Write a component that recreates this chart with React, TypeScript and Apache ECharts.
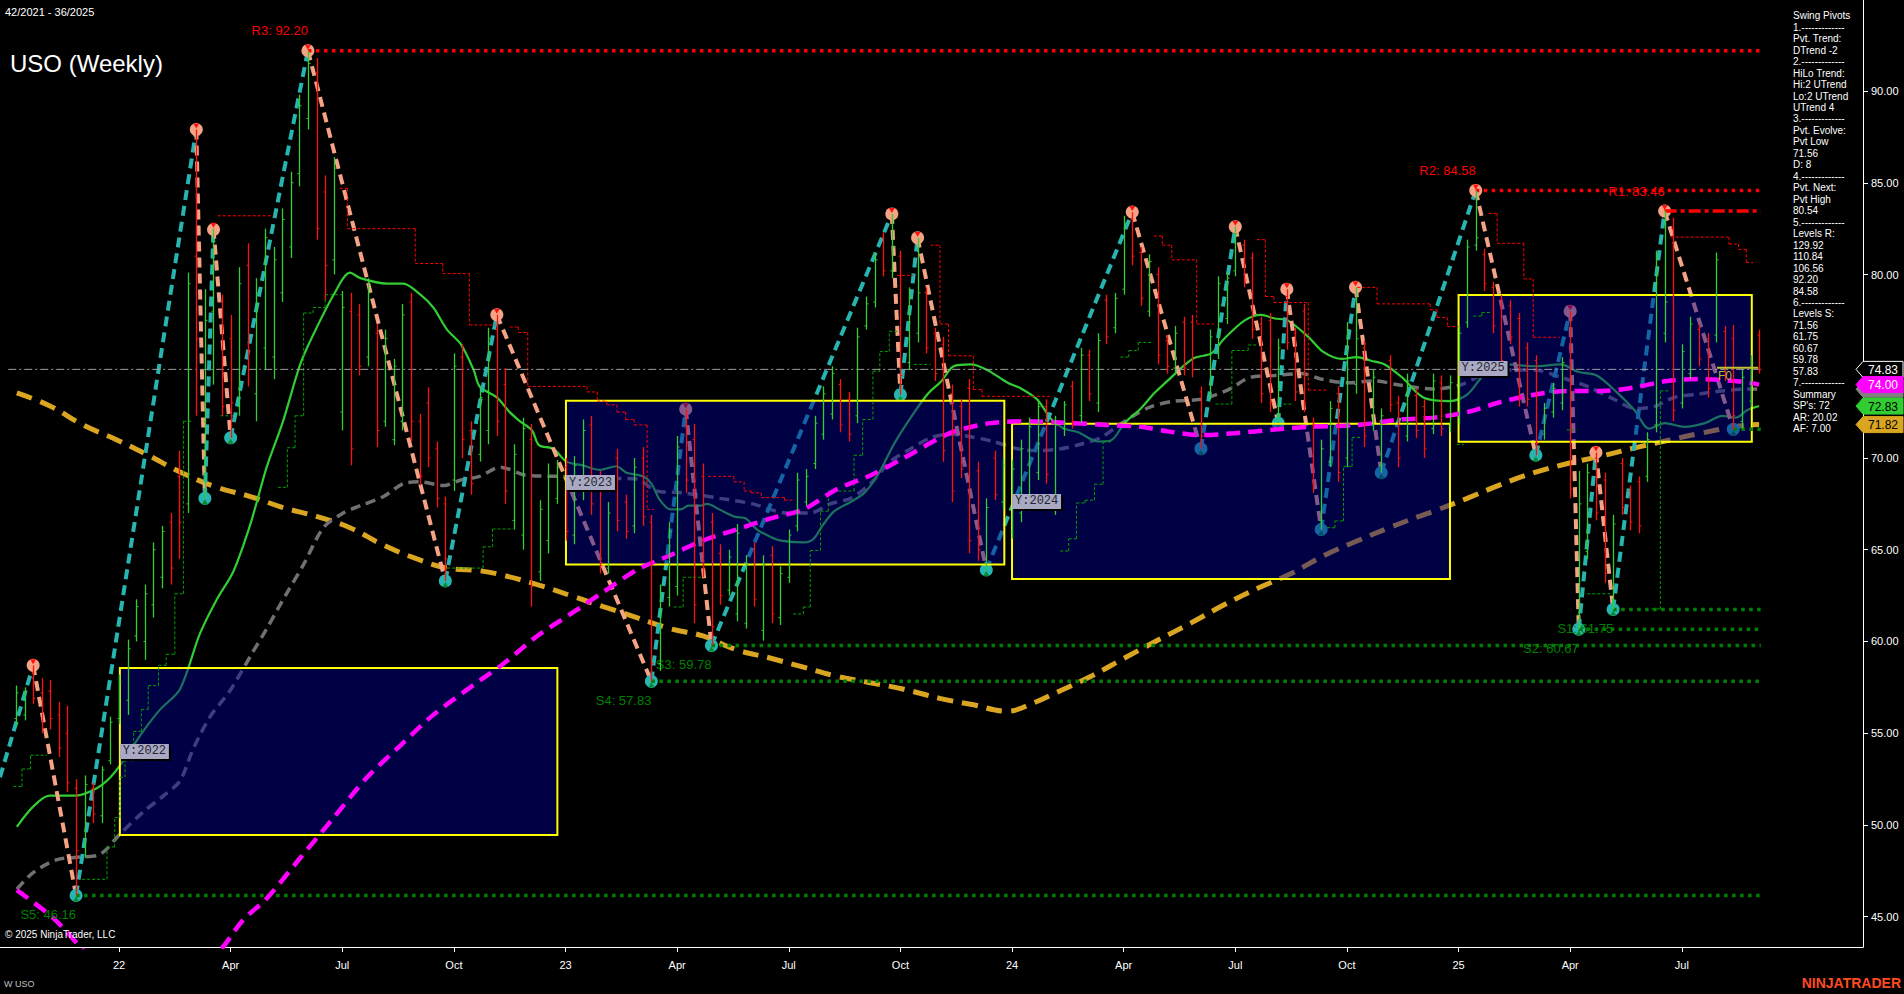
import React, { useEffect, useRef } from 'react';
import * as echarts from 'echarts';

// ---------- axis ticks (week index 0 = week of 3 Jan 2022) ----------
const xTickWeeks = [0, 13, 26, 39, 52, 65, 78, 91, 104, 117, 130, 143, 156, 169, 182];
const xTickLabels = ['22', 'Apr', 'Jul', 'Oct', '23', 'Apr', 'Jul', 'Oct', '24', 'Apr', 'Jul', 'Oct', '25', 'Apr', 'Jul'];
const yTickValues = [45, 50, 55, 60, 65, 70, 75, 80, 85, 90];
// 75.00 sits under the last-price tag, so it is not labelled
const yLabelValues = [45, 50, 55, 60, 65, 70, 80, 85, 90];

// ---------- weekly OHLC bars [open, high, low, close] ----------
const firstBarWeek = -12;
const weeklyBars = [
  [55.8, 57.6, 55.4, 57.2], [56.0, 57.5, 55.7, 57.3], [58.0, 58.7, 56.6, 56.9], [57.2, 58.0, 55.0, 55.6],
  [57.3, 57.9, 55.2, 55.8], [56.0, 56.7, 53.7, 54.2], [55.0, 56.5, 51.8, 52.3], [52.0, 52.5, 46.16, 48.6],
  [48.8, 52.7, 48.2, 52.2], [52.0, 52.3, 50.1, 50.6], [50.5, 53.2, 50.1, 53.0], [53.5, 55.9, 53.3, 55.6],
  [55.8, 58.2, 55.5, 57.8], [56.8, 60.1, 56.0, 59.6], [60.3, 62.3, 60.0, 61.9], [60.0, 63.1, 59.0, 62.6],
  [62.0, 65.4, 61.3, 65.0], [63.5, 66.3, 62.9, 66.0], [66.5, 67.0, 63.1, 64.0], [69.0, 70.4, 64.5, 66.5],
  [67.5, 80.1, 67.0, 79.5], [81.0, 87.9, 72.3, 76.5], [72.0, 79.2, 67.8, 77.5], [78.0, 82.5, 74.0, 81.8],
  [78.5, 78.9, 72.3, 72.8], [76.5, 77.8, 71.1, 73.0], [72.8, 80.4, 72.3, 79.5], [80.5, 81.7, 73.9, 75.8],
  [73.5, 79.8, 72.0, 79.0], [76.0, 82.5, 74.8, 82.0], [75.5, 81.5, 74.3, 80.8], [79.0, 83.6, 78.5, 83.0],
  [81.5, 85.6, 80.9, 85.0], [85.5, 89.8, 84.8, 89.2], [88.5, 92.2, 87.9, 91.5], [91.0, 91.8, 81.9, 82.5],
  [84.5, 85.4, 78.6, 80.5], [80.8, 86.4, 80.0, 85.8], [72.5, 79.1, 71.5, 78.2], [78.0, 79.0, 69.6, 70.5],
  [77.8, 78.4, 74.5, 75.0], [75.5, 79.8, 75.0, 79.0], [76.8, 77.3, 70.6, 71.5], [72.0, 77.0, 71.7, 76.5],
  [71.0, 75.4, 70.7, 75.0], [72.0, 78.4, 71.5, 77.8], [78.5, 79.0, 70.9, 72.0], [72.0, 72.4, 68.5, 69.0],
  [73.0, 73.85, 69.5, 70.0], [70.5, 70.9, 67.3, 67.8], [67.5, 67.9, 63.3, 64.5], [68.8, 75.7, 68.2, 75.0],
  [75.5, 76.2, 70.0, 71.0], [71.5, 72.0, 68.0, 68.6], [70.2, 73.85, 69.8, 73.3], [71.5, 77.1, 70.75, 76.5],
  [77.0, 77.8, 71.2, 72.0], [74.0, 74.9, 67.5, 68.2], [66.6, 70.75, 66.1, 70.2], [65.8, 72.2, 65.0, 71.6],
  [71.0, 71.85, 61.9, 63.0], [63.8, 67.7, 63.3, 67.2], [65.5, 69.7, 64.8, 69.0], [67.8, 69.9, 67.5, 69.5],
  [69.5, 70.0, 65.5, 66.0], [65.8, 70.1, 65.3, 69.6], [68.2, 72.1, 67.7, 71.5], [71.8, 72.3, 66.9, 67.5],
  [68.8, 69.3, 63.7, 64.3], [64.0, 67.6, 63.7, 67.0], [70.0, 70.5, 66.0, 66.6], [67.6, 68.0, 65.6, 66.0],
  [66.3, 70.0, 65.9, 69.5], [70.0, 70.6, 66.3, 66.8], [66.5, 66.9, 57.83, 58.8], [58.8, 63.1, 58.4, 62.6],
  [62.4, 66.5, 61.9, 66.0], [63.0, 71.2, 62.5, 70.6], [71.8, 72.66, 68.1, 68.8], [71.0, 71.85, 61.0, 62.0],
  [69.0, 69.7, 63.5, 64.0], [66.5, 67.0, 59.78, 60.8], [64.8, 65.3, 62.0, 62.5], [62.8, 65.0, 62.5, 64.6],
  [61.5, 66.4, 61.1, 65.9], [61.0, 64.7, 60.7, 64.2], [65.0, 65.4, 61.9, 62.3], [60.6, 64.7, 60.05, 64.2],
  [64.7, 65.2, 61.0, 61.5], [61.3, 64.1, 60.9, 63.7], [63.5, 66.1, 63.2, 65.8], [66.3, 69.2, 66.0, 68.8],
  [67.6, 69.4, 67.4, 69.0], [69.7, 72.3, 69.4, 71.9], [71.3, 73.9, 71.0, 73.5], [72.4, 75.0, 72.1, 74.6],
  [74.0, 74.3, 71.4, 71.8], [73.2, 73.6, 70.9, 71.3], [72.3, 77.1, 71.9, 76.6], [77.2, 78.8, 77.0, 78.4],
  [78.5, 81.2, 78.2, 80.8], [82.0, 82.3, 79.9, 80.2], [80.2, 83.3, 79.8, 81.5], [81.0, 81.3, 73.45, 74.5],
  [75.2, 79.3, 74.8, 78.8], [76.8, 82.0, 76.3, 79.0], [79.0, 79.3, 75.7, 76.0], [76.8, 77.1, 74.2, 74.6],
  [76.2, 76.6, 69.8, 70.4], [73.5, 74.0, 67.6, 68.2], [72.8, 73.2, 68.9, 69.4], [73.8, 74.3, 64.8, 65.5],
  [69.3, 69.8, 64.4, 65.0], [64.3, 67.8, 63.9, 67.3], [70.0, 70.4, 67.7, 68.0], [67.6, 70.0, 67.2, 69.6],
  [66.0, 69.9, 65.6, 69.4], [67.0, 71.0, 66.5, 70.5], [67.6, 72.2, 67.1, 71.7], [69.2, 73.2, 68.8, 72.8],
  [72.8, 73.2, 68.6, 69.1], [67.4, 72.3, 66.9, 71.8], [71.6, 73.1, 71.2, 72.9], [73.9, 74.2, 71.6, 72.0],
  [72.3, 76.0, 71.9, 75.6], [75.6, 75.9, 73.1, 73.5], [73.0, 76.8, 72.5, 76.4], [78.6, 78.9, 76.2, 76.6],
  [77.1, 79.0, 76.8, 78.7], [79.2, 83.2, 78.9, 82.8], [83.0, 83.4, 80.5, 81.0], [81.2, 81.5, 78.3, 78.7],
  [78.0, 81.1, 77.7, 80.7], [80.0, 80.4, 75.1, 75.6], [76.4, 76.7, 74.6, 75.0], [74.9, 77.2, 74.6, 76.8],
  [77.4, 77.7, 74.5, 74.9], [77.4, 77.8, 74.4, 74.8], [73.6, 73.9, 70.5, 71.2], [73.5, 77.0, 73.2, 76.6],
  [75.8, 79.9, 75.4, 79.5], [77.6, 80.1, 77.3, 79.8], [80.2, 82.6, 79.9, 82.2], [81.6, 81.9, 79.3, 79.7],
  [80.9, 81.2, 76.5, 77.0], [77.3, 77.7, 73.0, 73.5], [77.5, 77.9, 72.5, 73.0], [72.3, 76.5, 71.9, 76.0],
  [78.8, 79.2, 75.9, 76.3], [76.8, 77.1, 73.1, 73.6], [78.0, 78.4, 72.5, 73.0], [71.8, 72.2, 68.1, 68.6],
  [66.6, 71.0, 66.1, 70.5], [69.8, 73.1, 69.5, 72.7], [73.5, 73.9, 68.7, 69.2], [70.0, 77.4, 69.5, 77.0],
  [74.0, 79.3, 73.5, 76.5], [76.0, 76.4, 70.6, 71.2], [71.8, 74.8, 71.5, 74.4], [69.6, 72.7, 69.2, 72.3],
  [75.3, 75.6, 72.5, 72.9], [73.0, 73.4, 69.5, 70.0], [71.2, 74.6, 70.9, 74.2], [73.4, 73.8, 71.1, 71.5],
  [72.8, 73.2, 70.0, 70.5], [71.6, 74.6, 71.3, 74.2], [74.1, 74.5, 71.2, 71.6], [71.7, 74.5, 71.4, 74.1],
  [72.2, 77.2, 71.8, 76.8], [77.4, 81.9, 77.1, 81.5], [81.6, 84.58, 81.3, 82.0], [81.1, 81.4, 79.1, 79.5],
  [79.3, 79.6, 76.8, 77.2], [78.6, 78.9, 74.8, 75.3], [78.3, 78.6, 76.2, 76.6], [77.6, 77.9, 72.8, 73.3],
  [76.0, 76.3, 72.8, 73.2], [75.3, 75.6, 70.15, 70.8], [71.3, 73.0, 71.0, 72.7], [72.5, 74.1, 72.2, 73.8],
  [73.0, 75.5, 72.6, 75.2], [76.0, 78.0, 67.8, 68.3], [61.5, 69.3, 60.67, 67.5], [64.9, 69.7, 64.5, 69.2],
  [70.0, 70.3, 66.6, 67.0], [68.8, 69.2, 63.2, 63.7], [62.3, 66.9, 61.75, 66.4], [69.7, 70.0, 66.9, 67.3],
  [68.2, 68.5, 66.05, 66.5], [68.7, 69.0, 65.9, 66.3], [69.0, 71.4, 68.7, 71.0], [71.8, 81.3, 71.4, 80.8],
  [76.8, 83.46, 76.3, 78.5], [82.5, 83.1, 72.0, 72.6], [73.0, 76.2, 72.7, 75.8], [74.6, 77.7, 74.3, 77.3],
  [77.0, 77.3, 75.0, 75.4], [76.5, 76.8, 73.3, 73.8], [76.7, 81.2, 76.3, 80.8], [76.9, 77.2, 74.2, 74.6],
  [76.5, 77.25, 71.56, 72.3], [72.0, 74.8, 71.6, 74.4], [73.1, 75.6, 72.8, 75.2], [76.7, 77.0, 74.6, 74.83],
];

// ---------- swing pivots (zigzag) ----------
const pivotWeeks = [-13.86, -10, -5, 9, 10, 11, 13, 22, 38, 44, 62, 66, 69, 90, 91, 93, 101, 118, 126, 130, 135, 136, 140, 144, 147, 158, 165, 169, 170, 172, 174, 180, 188];
const pivotPrices = [52.6, 58.7, 46.16, 87.9, 67.8, 82.5, 71.1, 92.2, 63.3, 77.8, 57.83, 72.66, 59.78, 83.3, 73.45, 82.0, 63.9, 83.4, 70.5, 82.6, 71.9, 79.2, 66.1, 79.3, 69.2, 84.58, 70.15, 78.0, 60.67, 70.3, 61.75, 83.46, 71.56];

// ---------- support / resistance levels ----------
const levelNames = ['R3', 'R2', 'R1', 'S1', 'S2', 'S3', 'S4', 'S5'];
const levelPrices = [92.2, 84.58, 83.46, 61.75, 60.67, 59.78, 57.83, 46.16];
const levelStartWeeks = [22, 158, 180, 174, 170, 69, 62, -5];
const evolvingLowWeek = 188;
const evolvingLowPrice = 71.56;
const levelEndWeek = 191.2;

// ---------- yearly boxes ----------
const yearNames = ['Y:2022', 'Y:2023', 'Y:2024', 'Y:2025'];
const yearStartWeeks = [0.1, 52.05, 104.0, 156.0];
const yearEndWeeks = [51.05, 103.1, 155.0, 190.15];
const yearHighs = [58.56, 73.12, 71.86, 78.88];
const yearLows = [49.45, 64.2, 63.4, 70.88];

// ---------- moving averages [week, value] ----------
const greenMA = [[-11.9,49.9],[-10,51.0],[-8.1,51.6],[-5,51.6],[-2.6,52.0],[-1,52.6],[0.5,53.5],[2.8,55.1],[4.8,56.3],[7.1,57.4],[9.4,60.4],[11.4,62.3],[13.3,63.8],[15.3,66.4],[17.2,69.5],[19.1,72.0],[21.1,75.1],[22.6,76.7],[25,78.9],[26.9,80.1],[28.1,79.8],[31.2,79.5],[33.1,79.5],[35.1,78.9],[36.6,78.2],[38.2,77.0],[39.8,76.2],[41.3,74.8],[42,73.9],[44,73.3],[45.5,72.5],[46.7,72.0],[48.1,71.5],[48.9,70.7],[50.6,70.5],[52.1,69.8],[54,69.6],[56,69.35],[57.9,69.55],[59.1,69.2],[61,69.0],[62,68.6],[63,67.7],[64.2,67.2],[65.4,67.2],[66.3,67.4],[67.7,67.4],[68.5,67.5],[69.9,67.2],[71.7,66.8],[73,66.7],[74.3,66.1],[75.9,65.7],[77.1,65.5],[79.8,65.4],[80.9,65.6],[81.9,66.3],[83.3,67.1],[85.2,67.6],[86.8,68.1],[88.4,69.1],[90.3,70.8],[92.2,72.2],[94.2,73.5],[95.8,74.2],[97.2,75.0],[99.2,75.1],[101.1,74.8],[103.5,74.1],[105,73.8],[106.9,73.2],[108.6,72.1],[110.1,71.6],[111.7,71.4],[114,70.9],[115.5,70.95],[117.1,71.9],[119,72.7],[120.6,73.55],[122.1,74.2],[123.7,74.9],[125.2,75.45],[127.2,75.7],[128.7,76.5],[131.1,77.5],[133,77.8],[134.6,77.6],[136.1,77.5],[138.5,76.6],[140.2,75.8],[142.4,75.4],[144.1,75.5],[145.8,75.3],[147.4,75.1],[149.4,74.4],[151.9,73.3],[155,73.1],[157,73.45],[159.3,74.7],[161.7,75.1],[164.8,75.0],[167.9,75.1],[169.9,74.7],[172.1,74.5],[174.5,73.55],[176.5,72.6],[178.2,71.6],[180,71.9],[182.3,71.7],[184.7,71.9],[186.7,72.3],[188.3,72.2],[189.6,72.6],[191,72.83]];
const greyMA = [[-11.9,46.5],[-10,47.4],[-7.3,48.1],[-4.5,48.25],[-2.2,48.4],[0.1,49.5],[2.8,50.7],[5.2,51.6],[7.1,52.4],[8.6,54.1],[10.6,55.9],[12.9,57.3],[15.3,59.2],[17.2,60.7],[19.5,62.6],[21.5,64.2],[23.8,66.2],[26.1,67.0],[28.1,67.4],[30.8,67.9],[33.1,68.6],[35.1,68.7],[37.8,68.5],[39.8,68.8],[42,69.0],[44.4,69.5],[47.5,69.05],[51.3,69.0],[56.4,68.9],[60.3,68.85],[62.6,68.2],[65.7,68.1],[70,67.8],[73.8,67.5],[77.8,67.0],[80.5,67.0],[82.8,67.5],[85.2,67.8],[87.5,68.6],[89.8,69.8],[92.2,70.5],[94.5,71.1],[96.9,71.3],[98.7,71.2],[101.8,70.9],[104.6,70.5],[106.9,70.4],[109.7,70.5],[112,70.75],[114.3,71.1],[116.3,71.75],[118.3,72.35],[120.2,72.8],[122.9,73.1],[126,73.2],[129.1,73.7],[131.8,74.4],[134.6,74.5],[137.7,74.6],[140,74.3],[143.1,74.1],[146.2,74.2],[149.3,73.96],[153.1,73.76],[156.2,73.98],[158.6,74.5],[160.9,74.8],[164.8,74.8],[167.9,74.4],[171,73.9],[174.1,73.2],[176.5,72.7],[178.8,72.8],[181.1,73.3],[184.2,73.5],[186.6,73.65],[190.1,73.76],[191,73.75]];
const magentaMA = [[-11.9,46.45],[-7.5,44.86],[-3,42.6],[2,40.7],[7,41.0],[12,43.3],[14.4,44.8],[17.2,46.0],[21.1,48.2],[25,50.4],[28.9,52.6],[32.7,54.3],[36.6,56.0],[42.1,57.9],[44.8,58.8],[48.7,60.3],[52.6,61.5],[56.4,62.7],[60.3,63.9],[64.2,64.7],[68,65.5],[71.9,66.1],[75.8,66.7],[79.7,67.2],[83.6,68.3],[87.5,69.05],[91.4,70.0],[95.6,71.1],[97.6,71.5],[101.5,71.9],[105.4,72.0],[111.2,71.9],[115.1,71.8],[119,71.7],[122.1,71.45],[126,71.25],[129.9,71.35],[134.6,71.55],[138.5,71.7],[144.3,71.8],[149.2,72.1],[153.1,72.2],[157,72.5],[160.9,73.05],[164.8,73.45],[168.7,73.65],[172.6,73.65],[176.5,73.85],[180.3,74.2],[184.2,74.3],[188.1,74.2],[190.1,74.08],[191,74.0]];
const goldMA = [[-11.9,73.55],[-8.1,72.85],[-4.2,71.8],[-0.3,71.0],[3.6,70.1],[7.5,69.15],[11.4,68.4],[15.3,67.9],[19.1,67.3],[23.1,66.8],[26.9,66.2],[30.8,65.25],[34.7,64.5],[38.2,64.0],[42.1,63.85],[44.8,63.6],[48.7,63.1],[52.6,62.5],[56.4,61.9],[60.3,61.3],[64.2,60.7],[68,60.3],[71.9,59.55],[75.8,59.1],[79.7,58.6],[83.6,58.1],[87.5,57.75],[91.4,57.4],[95.6,56.9],[99.5,56.55],[103.4,56.2],[106.5,56.65],[109.3,57.25],[113.2,58.1],[117.1,59.1],[120.9,60.05],[124.8,61.0],[128.7,62.0],[132.6,62.9],[136.5,63.7],[140.4,64.7],[144.3,65.5],[148.2,66.25],[151.6,66.85],[153.1,67.1],[157,67.8],[160.9,68.55],[164.8,69.2],[168.7,69.7],[172.6,70.1],[176.5,70.55],[180.3,70.95],[184.2,71.35],[188.1,71.7],[190.1,71.8],[191,71.82]];

// ---------- trailing step lines [fromWeek, toWeek, value] ----------
const redSteps = [[11.5,18,83.2],[25.7,26.6,84.7],[26.6,34.5,82.5],[34.5,37.7,80.6],[37.7,40.8,80.05],[40.8,43.8,77.25],[45.5,46.5,77.14],[46.5,47.6,76.84],[47.6,54.5,73.9],[54.5,55.7,73.6],[55.7,56.8,73.1],[56.8,58,72.9],[58,59,72.5],[59,60,72.1],[60,61.5,71.8],[61.5,62.3,67.2],[68.6,71.6,69.0],[71.6,72.8,68.7],[72.8,73.6,68.2],[73.6,74.8,68.1],[74.8,77.5,67.84],[77.5,78.7,67.7],[90.6,92.5,79.95],[94.5,95.6,81.6],[95.6,96.6,77.3],[96.6,99.5,75.57],[99.5,100.5,73.73],[100.5,108.4,73.36],[120.5,121.5,82.1],[121.5,122.6,81.6],[122.6,125.5,80.8],[125.5,127.5,77.3],[132.5,133.5,81.9],[133.5,134.5,78.8],[134.5,138.5,78.47],[138.5,140.7,73.7],[144.2,146.5,79.3],[146.5,152.7,78.4],[152.7,153.5,78.08],[153.5,154.7,77.66],[154.7,156,77.16],[159.5,160.5,83.33],[160.5,163.6,81.7],[163.6,164.7,79.76],[164.7,167.8,76.58],[180.7,187.5,82.04],[187.5,188.6,81.66],[188.6,189.5,81.37],[189.5,190.3,80.65]];
const greenSteps = [[-12.3,-11.3,52.1],[-11.3,-10.3,53.05],[-10.3,-8.4,53.8],[-4.3,-1.4,47.04],[-1.4,-0.5,48.8],[-0.5,0.1,50.4],[0.1,0.7,52.6],[0.7,1.7,53.5],[1.7,2.6,55.1],[2.6,3.4,56.3],[3.4,4.6,57.6],[4.6,5.5,58.7],[5.5,6.5,59.3],[6.5,7.5,62.6],[7.5,8.4,72.0],[11.8,13.3,72.3],[18.5,19.6,68.4],[19.6,20.5,70.56],[20.5,21.5,72.3],[21.5,22.6,77.9],[22.6,24,78.2],[24,25.9,78.9],[38.2,42.4,64.0],[42.4,43.5,65.16],[43.5,45.9,66.13],[64.6,65.7,61.88],[65.7,68.0,63.5],[78.5,79.7,61.5],[79.7,80.5,61.88],[80.5,81.7,64.96],[81.7,82.6,67.1],[82.6,85.6,68.2],[85.6,86.6,70.15],[86.6,87.8,72.1],[87.8,88.6,74.73],[88.6,89.7,75.8],[89.7,90.7,76.9],[92.6,94.5,75.1],[109.6,110.6,64.93],[110.6,111.5,65.6],[111.5,112.5,67.55],[112.5,113.6,67.7],[113.6,114.6,68.57],[114.6,115.6,70.88],[116.6,117.6,75.5],[117.6,118.7,75.86],[118.7,120.5,76.3],[127.7,129.6,72.94],[129.6,131.5,75.86],[131.5,132.5,76.16],[135.6,136.6,72.94],[140.7,141.6,66.2],[141.6,142.6,66.57],[142.6,143.6,69.54],[143.6,144.6,71.12],[155.8,156.6,70.74],[157.7,158.7,77.73],[158.7,159.9,77.93],[168.6,169.8,71.53],[171,173.9,62.6],[178.5,179.5,61.77],[179.5,180.5,73.66]];

// ---------- last price & right-axis tags ----------
const lastPrice = 74.83;
const lastPriceLineStart = -12.9;
const lastPriceLineEnd = 191.2;
const fibWeeks = [186.1, 190.9];
const fibPrice = 74.92;
const tagPrices = [73.75, 74.83, 74.0, 72.83, 71.82];
const tagShowText = [false, true, true, true, true];
const tagFills = ['#808080', '#000000', '#ff00ff', '#32cd32', '#daa520'];
const tagStrokes = ['#808080', '#ffffff', '#ff00ff', '#32cd32', '#daa520'];
const tagTextColors = ['#ffffff', '#ffffff', '#ffffff', '#000000', '#000000'];

// ---------- info panel ----------
const panelLines = ['Swing Pivots', '1.-------------', 'Pvt. Trend:', 'DTrend -2', '2.-------------', 'HiLo Trend:', 'Hi:2 UTrend', 'Lo:2 UTrend', 'UTrend 4', '3.-------------', 'Pvt. Evolve:', 'Pvt Low', '71.56', 'D: 8', '4.-------------', 'Pvt. Next:', 'Pvt High', '80.54', '5.-------------', 'Levels R:', '129.92', '110.84', '106.56', '92.20', '84.58', '6.-------------', 'Levels S:', '71.56', '61.75', '60.67', '59.78', '57.83', '7.-------------', 'Summary', "SP's: 72", 'AR: 20.02', 'AF: 7.00'];

const FONT = "Arial, 'Liberation Sans', sans-serif";
const X_MIN = -13.86;
const X_MAX = 203.1;
const Y_MIN = 43.35;
const Y_MAX = 94.96;
const TEAL = '#26b5b0';
const SALMON = '#f5a385';

function txt(text, x, y, fill, font, align, vAlign) {
  return { text, x, y, fill, font, align, verticalAlign: vAlign, textAlign: align, textVerticalAlign: vAlign };
}

function buildOption() {
  const stepSeries = (segs, color) => ({
    type: 'custom', z: 5, clip: true, silent: true,
    data: segs.map((s) => [s[0], s[2]]),
    renderItem: (params, api) => {
      const i = params.dataIndex;
      const s = segs[i];
      const a = api.coord([s[0], s[2]]);
      const b = api.coord([s[1], s[2]]);
      const st = { stroke: color, lineWidth: 1, lineDash: [3, 2] };
      const children = [{ type: 'line', shape: { x1: a[0], y1: a[1], x2: b[0], y2: b[1] }, style: st }];
      const n = segs[i + 1];
      if (n && Math.abs(n[0] - s[1]) < 0.05) {
        const c = api.coord([s[1], n[2]]);
        children.push({ type: 'line', shape: { x1: b[0], y1: b[1], x2: c[0], y2: c[1] }, style: st });
      }
      return { type: 'group', children };
    },
  });

  const maSeries = (data, color, width, type, z, smooth) => ({
    type: 'line', data, z, symbol: 'none', showSymbol: false, smooth, silent: true, clip: true,
    lineStyle: { color, width, type, cap: 'butt' },
  });

  return {
    backgroundColor: '#000000',
    animation: false,
    tooltip: { show: false },
    grid: { left: 0, top: 0, width: 1863, height: 947, containLabel: false, outerBoundsMode: 'none' },
    xAxis: {
      type: 'value', min: X_MIN, max: X_MAX,
      splitLine: { show: false },
      axisLine: { show: true, onZero: false, lineStyle: { color: '#ffffff', width: 1 } },
      axisTick: { show: true, length: 5, lineStyle: { color: '#ffffff' }, customValues: xTickWeeks },
      axisLabel: {
        color: '#ffffff', fontSize: 11, fontFamily: FONT, margin: 12, customValues: xTickWeeks,
        formatter: (v) => { const k = xTickWeeks.indexOf(Math.round(v)); return k >= 0 ? xTickLabels[k] : ''; },
      },
    },
    yAxis: {
      type: 'value', position: 'right', min: Y_MIN, max: Y_MAX,
      splitLine: { show: false },
      axisLine: { show: true, onZero: false, lineStyle: { color: '#ffffff', width: 1 } },
      axisTick: { show: true, length: 5, lineStyle: { color: '#ffffff' }, customValues: yTickValues },
      axisLabel: {
        color: '#ffffff', fontSize: 11, fontFamily: FONT, margin: 8, customValues: yLabelValues,
        formatter: (v) => Number(v).toFixed(2),
      },
    },
    graphic: [
      { type: 'text', style: txt('42/2021 - 36/2025', 5, 12, '#ffffff', `11px ${FONT}`, 'left', 'middle'), z: 100 },
      { type: 'text', style: txt('USO (Weekly)', 10, 63, '#ffffff', `24px ${FONT}`, 'left', 'middle'), z: 100 },
      { type: 'text', style: txt('© 2025 NinjaTrader, LLC', 5, 934, '#ffffff', `10px ${FONT}`, 'left', 'middle'), z: 100 },
      { type: 'text', style: txt('W USO', 4, 984, '#c0c0c0', `9px ${FONT}`, 'left', 'middle'), z: 100 },
      { type: 'text', style: txt('NINJATRADER', 1901, 983, '#ff4a22', `bold 14px ${FONT}`, 'right', 'middle'), z: 100 },
      {
        type: 'text', z: 100,
        style: { ...txt(panelLines.join('\n'), 1793, 10, '#ffffff', `10px ${FONT}`, 'left', 'top'), lineHeight: 11.47 },
      },
    ],
    series: [
      // slow / medium moving averages (under the year boxes)
      maSeries(goldMA, '#daa520', 5, [16, 9], 2, 0.4),
      maSeries(greyMA, '#707070', 3.5, [10, 6], 2, 0.3),
      maSeries(greenMA, '#32cd32', 2.2, 'solid', 2, 0.3),
      // zigzag legs
      {
        type: 'custom', z: 3, clip: true, silent: true,
        data: pivotWeeks.slice(1).map((w, i) => [w, pivotPrices[i + 1]]),
        renderItem: (params, api) => {
          const i = params.dataIndex + 1;
          const a = api.coord([pivotWeeks[i - 1], pivotPrices[i - 1]]);
          const b = api.coord([pivotWeeks[i], pivotPrices[i]]);
          const up = pivotPrices[i] > pivotPrices[i - 1];
          return { type: 'line', shape: { x1: a[0], y1: a[1], x2: b[0], y2: b[1] }, style: { stroke: up ? TEAL : SALMON, lineWidth: 4, lineDash: [10, 6] } };
        },
      },
      // pivot markers
      {
        type: 'custom', z: 3, clip: true, silent: true,
        data: pivotWeeks.slice(1).map((w, i) => [w, pivotPrices[i + 1]]),
        renderItem: (params, api) => {
          const i = params.dataIndex + 1;
          const p = api.coord([pivotWeeks[i], pivotPrices[i]]);
          const high = pivotPrices[i] > pivotPrices[i - 1];
          const tri = high
            ? [[p[0] - 3, p[1] - 6], [p[0] + 3, p[1] - 6], [p[0], p[1] - 1]]
            : [[p[0] - 3, p[1] + 6], [p[0] + 3, p[1] + 6], [p[0], p[1] + 1]];
          return {
            type: 'group', children: [
              { type: 'circle', shape: { cx: p[0], cy: p[1], r: 6.5 }, style: { fill: high ? SALMON : TEAL } },
              { type: 'polygon', shape: { points: tri }, style: { fill: high ? '#ff1010' : '#0a8a2a' } },
            ],
          };
        },
      },
      // yearly boxes
      {
        type: 'custom', z: 4, clip: true, silent: true,
        data: yearNames.map((n, i) => [yearStartWeeks[i], yearHighs[i]]),
        renderItem: (params, api) => {
          const i = params.dataIndex;
          const a = api.coord([yearStartWeeks[i], yearHighs[i]]);
          const b = api.coord([yearEndWeeks[i], yearLows[i]]);
          return { type: 'rect', shape: { x: a[0], y: a[1], width: b[0] - a[0], height: b[1] - a[1] }, style: { fill: 'rgba(0,0,150,0.45)', stroke: '#ffff00', lineWidth: 2 } };
        },
      },
      // fast MA over the boxes
      maSeries(magentaMA, '#ff00ff', 4.5, [14, 8], 5, 0.3),
      stepSeries(redSteps, '#ff0000'),
      stepSeries(greenSteps, '#00a000'),
      // last price dash-dot line
      {
        type: 'line', z: 5, symbol: 'none', silent: true,
        data: [[lastPriceLineStart, lastPrice], [lastPriceLineEnd, lastPrice]],
        lineStyle: { color: '#a0a0a0', width: 1, type: [8, 3, 2, 3] },
      },
      // support / resistance levels
      {
        type: 'custom', z: 5, clip: true, silent: true,
        data: levelNames.map((n, i) => [levelStartWeeks[i], levelPrices[i]]),
        renderItem: (params, api) => {
          const i = params.dataIndex;
          const p = levelPrices[i];
          const a = api.coord([levelStartWeeks[i], p]);
          const b = api.coord([levelEndWeek, p]);
          const isR = levelNames[i][0] === 'R';
          const color = isR ? '#ff0000' : '#008000';
          const dash = levelNames[i] === 'R1' ? [12, 4, 4, 4] : [3.5, 4.5];
          return {
            type: 'group', children: [
              { type: 'line', shape: { x1: a[0], y1: a[1], x2: b[0], y2: b[1] }, style: { stroke: color, lineWidth: 3.5, lineDash: dash } },
              { type: 'text', z2: 10, style: txt(`${levelNames[i]}: ${p.toFixed(2)}`, a[0], a[1] + (isR ? -20 : 19), color, `13px ${FONT}`, 'right', 'middle') },
            ],
          };
        },
      },
      {
        type: 'custom', z: 5, clip: true, silent: true,
        data: [[evolvingLowWeek, evolvingLowPrice]],
        renderItem: (params, api) => {
          const a = api.coord([evolvingLowWeek, evolvingLowPrice]);
          const b = api.coord([levelEndWeek, evolvingLowPrice]);
          return { type: 'line', shape: { x1: a[0], y1: a[1], x2: b[0], y2: b[1] }, style: { stroke: '#008000', lineWidth: 3.5, lineDash: [3.5, 4.5] } };
        },
      },
      // price bars
      {
        type: 'custom', z: 6, clip: true, silent: true,
        data: weeklyBars.map((b, i) => [firstBarWeek + i, b[1], b[2]]),
        renderItem: (params, api) => {
          const i = params.dataIndex;
          const [o, h, l, c] = weeklyBars[i];
          const x = firstBarWeek + i;
          const ph = api.coord([x, h]);
          const pl = api.coord([x, l]);
          const po = api.coord([x, o]);
          const pc = api.coord([x, c]);
          const px = Math.round(ph[0]) + 0.5;
          const col = c >= o ? '#33cc33' : '#ff1010';
          return {
            type: 'group', children: [
              { type: 'line', shape: { x1: px, y1: ph[1], x2: px, y2: pl[1] }, style: { stroke: col, lineWidth: 1.3 } },
              { type: 'line', shape: { x1: px - 2, y1: po[1], x2: px, y2: po[1] }, style: { stroke: col, lineWidth: 1 } },
              { type: 'line', shape: { x1: px, y1: pc[1], x2: px + 2, y2: pc[1] }, style: { stroke: col, lineWidth: 1 } },
            ],
          };
        },
      },
      // year labels
      {
        type: 'custom', z: 7, clip: true, silent: true,
        data: yearNames.map((n, i) => [yearStartWeeks[i], yearHighs[i]]),
        renderItem: (params, api) => {
          const i = params.dataIndex;
          const a = api.coord([yearStartWeeks[i], yearHighs[i]]);
          const b = api.coord([yearEndWeeks[i], yearLows[i]]);
          const yc = (a[1] + b[1]) / 2;
          const x = a[0];
          return {
            type: 'group', children: [
              { type: 'rect', shape: { x: x + 2, y: yc - 5.5, width: 49, height: 15 }, style: { fill: '#000000' } },
              { type: 'rect', shape: { x: x, y: yc - 7.5, width: 49, height: 15 }, style: { fill: '#a9a9c4' } },
              { type: 'text', style: txt(yearNames[i], x + 3, yc, '#262630', `12px 'Liberation Mono', 'DejaVu Sans Mono', monospace`, 'left', 'middle') },
            ],
          };
        },
      },
      // F0 marker
      {
        type: 'custom', z: 7, clip: true, silent: true,
        data: [[fibWeeks[0], fibPrice]],
        renderItem: (params, api) => {
          const a = api.coord([fibWeeks[0], fibPrice]);
          const b = api.coord([fibWeeks[1], fibPrice]);
          return {
            type: 'group', children: [
              { type: 'line', shape: { x1: a[0], y1: a[1], x2: b[0], y2: b[1] }, style: { stroke: '#c8c030', lineWidth: 2 } },
              { type: 'text', style: txt('F0', a[0] + 1, a[1] + 8, '#b8b030', `12px ${FONT}`, 'left', 'middle') },
            ],
          };
        },
      },
      // right-axis price tags
      {
        type: 'custom', z: 8, silent: true,
        data: tagPrices.map((p) => [X_MAX, p]),
        renderItem: (params, api) => {
          const i = params.dataIndex;
          const p = api.coord([X_MAX, tagPrices[i]]);
          const x0 = p[0];
          const y = p[1];
          const children = [
            { type: 'polygon', shape: { points: [[x0 - 7, y], [x0, y - 8], [1903, y - 8], [1903, y + 8], [x0, y + 8]] }, style: { fill: tagFills[i], stroke: tagStrokes[i], lineWidth: 1 } },
          ];
          if (tagShowText[i]) {
            children.push({ type: 'text', style: txt(tagPrices[i].toFixed(2), x0 + 20, y + 0.5, tagTextColors[i], `12px ${FONT}`, 'center', 'middle') });
          }
          return { type: 'group', children };
        },
      },
    ],
  };
}

export default function App() {
  const ref = useRef(null);
  useEffect(() => {
    document.body.style.margin = '0';
    document.body.style.padding = '0';
    document.body.style.background = '#000000';
    document.body.style.overflow = 'hidden';
    if (!ref.current) return;
    const chart = echarts.init(ref.current, null, { renderer: 'svg' });
    chart.setOption(buildOption());
    return () => chart.dispose();
  }, []);
  return (
    <div
      ref={ref}
      style={{ position: 'absolute', left: 0, top: 0, width: 1904, height: 994, background: '#000000' }}
    />
  );
}
